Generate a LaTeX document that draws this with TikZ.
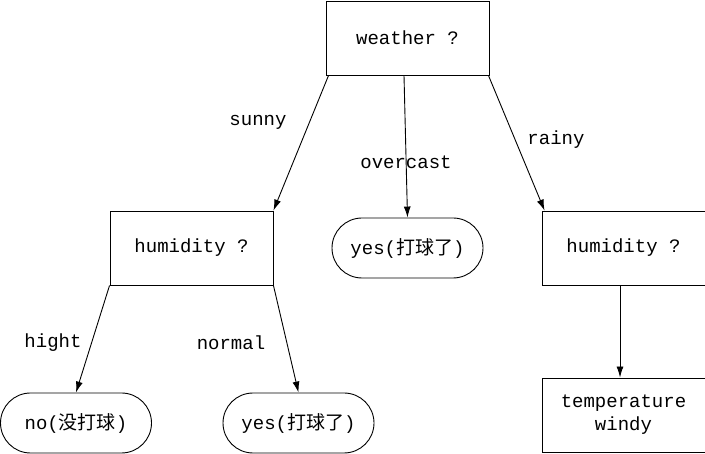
\documentclass[tikz,border=0pt]{standalone}
\usepackage{fontspec}
\setmainfont{Liberation Mono}
\newfontfamily\cjk{Noto Sans CJK SC}
\usetikzlibrary{arrows.meta}
\begin{document}
\begin{tikzpicture}[x=1pt,y=-1pt,
  box/.style={draw,line width=0.9pt,minimum width=163pt,minimum height=74pt,inner sep=0pt,font=\fontsize{19}{23}\selectfont,align=center},
  leaf/.style={draw,line width=0.9pt,rounded corners=30pt,minimum width=151pt,minimum height=60pt,inner sep=0pt,font=\fontsize{19}{23}\selectfont},
  lab/.style={font=\fontsize{19}{23}\selectfont},
  arr/.style={-{Latex[length=11pt,width=7pt]},line width=0.9pt}]
\useasboundingbox (0,0) rectangle (705,454);
\node[box] (w) at (407.5,38) {weather ?};
\node[box] (h1) at (191.5,248) {humidity ?};
\node[leaf] (y1) at (407.5,248) {yes({\cjk 打球了})};
\node[box] (h2) at (623.5,248) {humidity ?};
\node[leaf] (n) at (76,423) {no({\cjk 没打球})};
\node[leaf] (y2) at (298.5,423) {yes({\cjk 打球了})};
\node[box] (t) at (623.5,415) {temperature\\windy};
\draw[arr] (w.south west)++(3,0) coordinate (a1) -- (h1.north east);
\draw[arr] ([xshift=-3.5pt]w.south) -- (y1.north);
\draw[arr] ([xshift=-1pt]w.south east) -- ([xshift=3pt]h2.north west);
\draw[arr] (h1.south west) -- (n.north);
\draw[arr] (h1.south east) -- (y2.north);
\draw[arr] ([xshift=-3.5pt]h2.south) -- ([xshift=-3.5pt]t.north);
\node[lab] (l1) at (258,122) {sunny};
\node[lab] (l2) at (406,162) {overcast};
\node[lab] (l3) at (556,140) {rainy};
\node[lab] (l4) at (53,343) {hight};
\node[lab] (l5) at (231,343) {normal};
\end{tikzpicture}
\end{document}
